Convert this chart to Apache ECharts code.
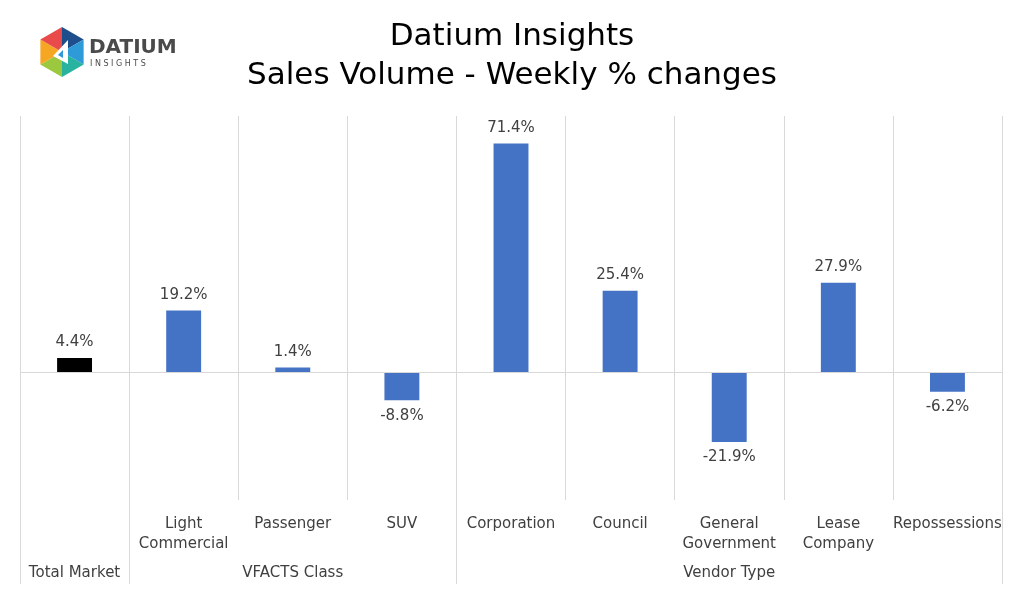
<!DOCTYPE html>
<html><head><meta charset="utf-8">
<script src="https://cdn.jsdelivr.net/npm/echarts@6/dist/echarts.min.js"></script>
<style>html,body{margin:0;padding:0;background:#fff}#c{width:1024px;height:594px}</style>
</head><body><div id="c"></div>
<script>
const categories = ['Total Market','Light Commercial','Passenger','SUV','Corporation','Council','General Government','Lease Company','Repossessions'];
const tickLabels = ['','Light\nCommercial','Passenger','SUV','Corporation','Council','General\nGovernment','Lease\nCompany','Repossessions'];
const groupLabels = ['Total Market','','VFACTS Class','','','','Vendor Type','',''];
const groupStarts = [0,1,4];
const values = [4.4,19.2,1.4,-8.8,71.4,25.4,-21.9,27.9,-6.2];
const highlightIndex = 0;

const FONT = 'DejaVu Sans';
const TXT = '#404040';
const chart = echarts.init(document.getElementById('c'), null, {renderer:'canvas'});

// logo hexagon
const cx = 62, cy = 52, R = 25;
const hexCols = ['#1f4e8c','#2e9ad8','#27b3a0','#9cc83f','#f5a623','#e94b4b'];
const logo = [];
for (let i=0;i<6;i++){
  const a1 = (-90 + i*60) * Math.PI/180, a2 = (-90 + (i+1)*60) * Math.PI/180;
  logo.push({type:'polygon', shape:{points:[[cx,cy],[cx+R*Math.cos(a1),cy+R*Math.sin(a1)],[cx+R*Math.cos(a2),cy+R*Math.sin(a2)]]}, style:{fill:hexCols[i]}});
}
logo.push({type:'polygon', shape:{points:[[cx+6,cy-12],[cx+6,cy+12],[cx-9,cy+4]]}, style:{fill:'#fff'}});
logo.push({type:'polygon', shape:{points:[[cx+1,cy-2],[cx+1,cy+6],[cx-4,cy+3]]}, style:{fill:'#2e9ad8'}});
logo.push({type:'text', left:89, top:38, style:{text:'DATIUM', font:'bold 20px '+FONT, fill:'#4a4a4a'}});
logo.push({type:'text', left:90, top:60, style:{text:'I N S I G H T S', font:'8px '+FONT, fill:'#4a4a4a'}});

chart.setOption({
  animation:false,
  title:{text:'Datium Insights\nSales Volume - Weekly % changes', left:'center', top:12,
    textStyle:{fontFamily:FONT, fontSize:31, fontWeight:'normal', color:'#000', lineHeight:39}},
  graphic: logo,
  grid:{left:20, right:22, top:116, bottom:94, containLabel:false},
  xAxis:[{
    type:'category', data:categories, position:'bottom',
    axisLine:{show:false, onZero:false}, axisTick:{show:false},
    axisLabel:{interval:0, margin:14, fontFamily:FONT, fontSize:15, color:TXT, lineHeight:20, verticalAlign:'top',
      formatter:(v, i)=>tickLabels[i]},
    splitLine:{show:true, lineStyle:{color:'#d9d9d9', width:1}}
  },{
    type:'category', data:groupLabels, position:'bottom', gridIndex:0,
    axisLine:{show:false, onZero:false},
    axisTick:{show:true, length:84, interval:(i)=>groupStarts.indexOf(i)>=0, lineStyle:{color:'#d9d9d9'}},
    axisLabel:{interval:0, margin:66, fontFamily:FONT, fontSize:15, color:TXT, verticalAlign:'top'},
    splitLine:{show:false}
  }],
  yAxis:{type:'value', min:-40, max:80, interval:40, show:false, splitLine:{show:false}},
  series:[{
    type:'bar', barWidth:'32%', xAxisIndex:0,
    data: values.map((v,i)=>({value:v, itemStyle:{color: i===highlightIndex ? '#000000' : '#4472c4'},
      label:{position: v>=0 ? 'top':'bottom'}})),
    label:{show:true, distance:8, fontFamily:FONT, fontSize:15, color:TXT, formatter:(p)=>p.value.toFixed(1)+'%'},
    markLine:{silent:true, symbol:'none', label:{show:false}, lineStyle:{color:'#d9d9d9', type:'solid', width:1}, data:[{yAxis:0}]}
  }]
});
</script></body></html>
